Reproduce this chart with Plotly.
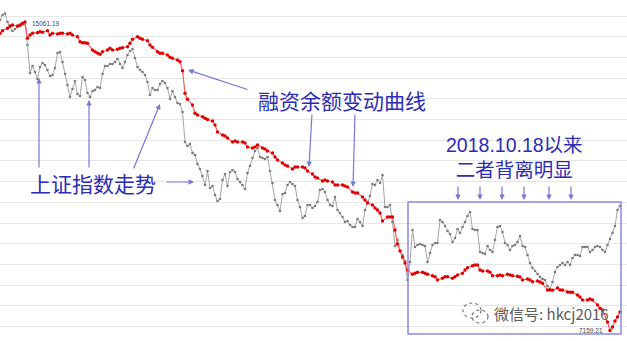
import plotly.graph_objects as go

W, H = 627, 341

# ---------------- data ----------------
# 上证指数 (grey), one value per trading day
sse_day = list(range(249))
sse_close = [
    3520, 3540, 3546, 3512, 3492, 3476, 3484, 3492, 3496, 3502,
    3504, 3420, 3308, 3336, 3312, 3284, 3332, 3348, 3340, 3320,
    3296, 3300, 3328, 3388, 3392, 3352, 3304, 3260, 3212, 3244,
    3276, 3224, 3216, 3292, 3280, 3228, 3212, 3236, 3240, 3252,
    3248, 3304, 3336, 3336, 3344, 3344, 3352, 3364, 3344, 3328,
    3352, 3380, 3396, 3404, 3368, 3332, 3320, 3312, 3300, 3272,
    3220, 3248, 3240, 3240, 3264, 3276, 3268, 3248, 3204, 3236,
    3212, 3188, 3184, 3152, 3032, 3016, 3024, 2988, 2980, 2944,
    2924, 2896, 2860, 2916, 2848, 2856, 2820, 2796, 2804, 2880,
    2904, 2856, 2912, 2920, 2912, 2884, 2872, 2860, 2844, 2908,
    2936, 2968, 2996, 3008, 2972, 2968, 2964, 2972, 2916, 2868,
    2800, 2780, 2756, 2824, 2828, 2860, 2872, 2864, 2856, 2800,
    2772, 2728, 2736, 2780, 2780, 2768, 2776, 2792, 2840, 2844,
    2832, 2800, 2780, 2776, 2812, 2760, 2748, 2732, 2712, 2716,
    2700, 2692, 2692, 2724, 2712, 2696, 2760, 2792, 2816, 2864,
    2860, 2880, 2868, 2900, 2772, 2772, 2780, 2712, 2616, 2640,
    2596, 2580, 2556, 2480, 2552, 2680, 2612, 2620, 2624, 2620,
    2616, 2552, 2588, 2620, 2628, 2628, 2720, 2712, 2696, 2676,
    2664, 2632, 2648, 2684, 2668, 2692, 2712, 2736, 2752, 2684,
    2680, 2680, 2592, 2588, 2584, 2616, 2600, 2592, 2640, 2692,
    2696, 2672, 2628, 2620, 2600, 2616, 2620, 2632, 2656, 2616,
    2612, 2580, 2548, 2528, 2516, 2504, 2492, 2484, 2480, 2456,
    2444, 2472, 2512, 2532, 2540, 2548, 2540, 2552, 2540, 2568,
    2580, 2580, 2576, 2612, 2612, 2612, 2592, 2600, 2612, 2616,
    2612, 2600, 2592, 2620, 2644, 2668, 2696, 2760, 2776,
]

# 融资余额 (red)
margin_day = [
    0, 1, 3, 4, 5, 7, 8, 9, 10, 11, 12, 13, 15, 16, 17, 19, 20, 21, 23, 24,
    25, 27, 28, 29, 31, 32, 33, 34, 35, 37, 38, 39, 40, 41, 43, 44, 45, 47, 48, 49,
    51, 52, 53, 55, 56, 57, 59, 60, 61, 63, 64, 65, 67, 68, 69, 71, 72, 73, 74, 75,
    77, 78, 79, 81, 82, 83, 85, 86, 87, 89, 90, 91, 93, 94, 95, 97, 98, 99, 101, 102,
    103, 105, 106, 107, 109, 110, 111, 113, 114, 115, 117, 118, 119, 121, 122, 123, 125, 126, 127, 129,
    130, 131, 133, 134, 135, 137, 138, 139, 141, 142, 143, 145, 146, 147, 149, 150, 151, 152, 153, 155,
    156, 157, 158, 159, 160, 161, 162, 163, 165, 166, 167, 169, 170, 171, 173, 174, 175, 177, 178, 179,
    181, 182, 183, 185, 186, 187, 189, 190, 191, 192, 193, 195, 196, 197, 199, 200, 201, 203, 204, 205,
    207, 208, 209, 211, 212, 213, 215, 216, 217, 219, 220, 221, 223, 224, 225, 227, 228, 229, 231, 232,
    233, 235, 236, 237, 239, 240, 241, 243, 244, 245, 246, 247, 248,
]
margin_bal = [
    14768, 14834, 14895, 14954, 14980, 14954, 14980, 15024, 15061.19, 14640,
    14724, 14768, 14783, 14808, 14793, 14834, 14724, 14768, 14750, 14768,
    14768, 14750, 14768, 14724, 14680, 14552, 14527, 14527, 14511, 14340,
    14296, 14263, 14230, 14296, 14340, 14384, 14340, 14358, 14384, 14399,
    14424, 14511, 14614, 14680, 14640, 14614, 14578, 14468, 14409, 14296,
    14255, 14255, 14212, 14153, 14127, 14084, 14040, 13810, 13231, 13078,
    12932, 12720, 12676, 12632, 12591, 12561, 12522, 12420, 12241, 12164,
    12138, 12087, 11985, 12010, 11985, 11985, 11959, 11857, 11831, 11857,
    11908, 11831, 11806, 11754, 11703, 11601, 11524, 11447, 11396, 11370,
    11294, 11345, 11345, 11345, 11319, 11242, 11166, 11089, 11063, 10986,
    11012, 10986, 10961, 10884, 10884, 10884, 10858, 10833, 10705, 10679,
    10679, 10577, 10500, 10423, 10372, 10295, 10244, 10167, 9962, 10065,
    10065, 10065, 9732, 9374, 9194, 9041, 8887, 8708, 8598, 8623,
    8649, 8649, 8623, 8598, 8562, 8536, 8452, 8495, 8536, 8536,
    8495, 8536, 8580, 8623, 8708, 8767, 8818, 8836, 8836, 8708,
    8682, 8682, 8649, 8562, 8562, 8580, 8562, 8598, 8580, 8562,
    8547, 8529, 8452, 8478, 8452, 8408, 8426, 8401, 8367, 8196,
    8196, 8188, 8247, 8196, 8196, 8145, 8137, 8137, 8068, 8017,
    7940, 7940, 7966, 7940, 7812, 7727, 7684, 7377, 7159.21, 7249,
    7402, 7505, 7633,
]

max_label = "15061.19"
min_label = "7159.21"
box_start_day = 163.2  # 2018.10.18
box_end_day = 248.4

title_margin = "融资余额变动曲线"
title_sse = "上证指数走势"
note_lines = ["2018.10.18以来", "二者背离明显"]
watermark = "微信号: hkcj2016"

# ---------------- figure ----------------
BLUE_TXT = "#2c2cb4"
BLUE_ARW = "#7777d8"
CJK = "Noto Sans CJK SC, Liberation Sans, sans-serif"
LAT = "Liberation Sans, Noto Sans CJK SC, sans-serif"

fig = go.Figure()
fig.add_trace(go.Scatter(
    x=sse_day, y=sse_close, mode="lines+markers", yaxis="y",
    line=dict(color="#a6a6a6", width=1),
    marker=dict(size=2.6, color="#7c7c7c"),
    hoverinfo="skip",
))
fig.add_trace(go.Scatter(
    x=margin_day, y=margin_bal, mode="lines+markers", yaxis="y2",
    line=dict(color="#ff5f5f", width=1.2),
    marker=dict(size=3.4, color="#e00000"),
    hoverinfo="skip",
))


def P(px, py):
    return px / W, 1 - py / H


annotations = []

# min / max value labels attached to the red series
imax = margin_bal.index(max(margin_bal))
imin = margin_bal.index(min(margin_bal))
annotations.append(dict(x=margin_day[imax], y=margin_bal[imax], xref="x", yref="y2",
                        text=max_label, showarrow=False, xanchor="left", yanchor="middle",
                        xshift=5, yshift=-2, font=dict(family=LAT, size=6.5, color="#444")))
annotations.append(dict(x=margin_day[imin], y=margin_bal[imin], xref="x", yref="y2",
                        text=min_label, showarrow=False, xanchor="right", yanchor="middle",
                        xshift=-5, yshift=0, font=dict(family=LAT, size=6.5, color="#444")))


def label(text, px, py, size, family=CJK):
    x, y = P(px, py)
    annotations.append(dict(x=x, y=y, xref="paper", yref="paper", text=text,
                            showarrow=False, xanchor="center", yanchor="middle",
                            font=dict(family=family, size=size, color=BLUE_TXT)))


def arrow(hx, hy, tx, ty):
    x, y = P(hx, hy)
    annotations.append(dict(x=x, y=y, xref="paper", yref="paper", text="",
                            showarrow=True, ax=tx - hx, ay=ty - hy,
                            arrowhead=2, arrowsize=0.9, arrowwidth=1.2,
                            arrowcolor=BLUE_ARW, standoff=0, startstandoff=0))


label(title_margin, 341.5, 100, 21)
label(title_sse, 93, 183, 21)
label("<br>".join(note_lines), 514, 157, 19.5, family=LAT)

# arrows for 融资余额变动曲线
arrow(188, 70, 249, 90)
arrow(309, 167, 312, 113)
arrow(353, 187, 355, 113)
# arrows for 上证指数走势
arrow(39, 78, 39, 169)
arrow(89, 100, 89, 169)
arrow(160, 104, 133, 170)
arrow(194, 182, 165, 182)
# arrows for 二者背离明显
for ax_ in (458, 480, 502, 524, 549, 571):
    arrow(ax_, 200, ax_, 185)

# watermark text
wx, wy = P(551, 313)
annotations.append(dict(x=wx, y=wy, xref="paper", yref="paper", text=watermark,
                        showarrow=False, xanchor="center", yanchor="middle",
                        font=dict(family=CJK, size=15, color="#5c5c5c")))

shapes = [
    dict(type="rect", xref="x", yref="paper", x0=box_start_day, x1=box_end_day,
         y0=1 - 334 / H, y1=1 - 202 / H, line=dict(color="#8a8ae0", width=1.5)),
]
# wechat-like bubble icon
for (x0, y0, x1, y1) in [(463, 303, 481, 318), (472, 310, 488, 323)]:
    a0, b0 = P(x0, y1)
    a1, b1 = P(x1, y0)
    shapes.append(dict(type="circle", xref="paper", yref="paper", x0=a0, y0=b0, x1=a1, y1=b1,
                       line=dict(color="#777", width=1.2, dash="dot")))

fig.update_layout(
    width=W, height=H, margin=dict(l=0, r=0, t=0, b=0),
    paper_bgcolor="white", plot_bgcolor="white", showlegend=False,
    xaxis=dict(range=[0, W / 2.5], visible=False),
    yaxis=dict(range=[3600 - 4 * H, 3600], showgrid=True, gridcolor="#e6e6e6", gridwidth=1,
               tick0=3536, dtick=82.8, showticklabels=False, zeroline=False, ticks=""),
    yaxis2=dict(range=[15620 - 25.6 * H, 15620], overlaying="y", visible=False),
    annotations=annotations, shapes=shapes,
)

fig.write_html("out.html")
